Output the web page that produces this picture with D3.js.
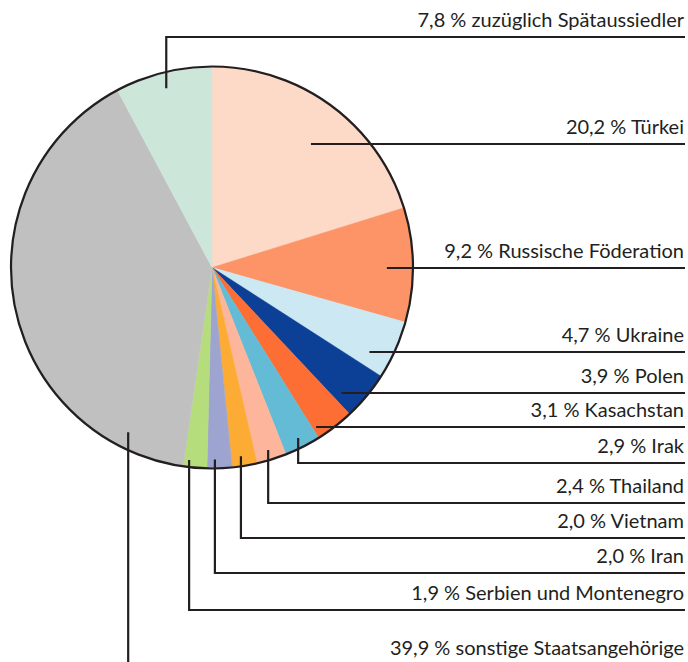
<!DOCTYPE html>
<html>
<head>
<meta charset="utf-8">
<script src="https://cdn.jsdelivr.net/npm/d3@7"></script>
<style>
  body { margin: 0; background: #fff; }
  text { font-family: Lato, sans-serif; fill: #231f20; }
</style>
</head>
<body>
<script>
'use strict';

// slices, clockwise from 12 o'clock
const countries = ["Türkei", "Russische Föderation", "Ukraine", "Polen", "Kasachstan",
  "Irak", "Thailand", "Vietnam", "Iran", "Serbien und Montenegro",
  "sonstige Staatsangehörige", "zuzüglich Spätaussiedler"];
const shares = [20.2, 9.2, 4.7, 3.9, 3.1, 2.9, 2.4, 2.0, 2.0, 1.9, 39.9, 7.8];
const sliceColors = ["#fddac8", "#fc9467", "#cce8f3", "#0c3f96", "#fd6e35", "#63bbd6",
  "#fdb69b", "#fcab35", "#9da4d0", "#b6dd7b", "#c0c0c0", "#cce6da"];

// leader layout: where the line leaves the slice (fraction of the slice, fraction of radius),
// kind of leader and y of the label row
const leaderT = [0.53, 0.52, 0.74, 0.82, 0.91, 0.5, 0.52, 0.59, 0.68, 0.78, 0.13, 0.49];
const leaderR = [0.79, 0.87, 0.89, 0.9, 0.95, 0.95, 0.95, 0.95, 0.955, 0.965, 0.92, 0.92];
const leaderKind = ["h", "h", "h", "h", "h", "v", "v", "v", "v", "v", "v", "v"];
const rowY = [144, 268, 352, 393, 427, 463, 503, 538, 573, 610, 665, 37];

(function() {

  let width = 688;
  let height = 662;
  let cx = 212, cy = 267.5, radius = 201;
  let rightEdge = 685;

  window.onload = function() {
    let svg = d3.select('body')
      .append('svg')
      .attr('width', width)
      .attr('height', height);

    let data = countries.map((c, i) => ({ name: c, value: shares[i] }));

    let pie = d3.pie()
      .value(d => d.value)
      .sort(null);
    let arcs = pie(data);

    let arc = d3.arc()
      .innerRadius(0)
      .outerRadius(radius);

    let g = svg.append('g')
      .attr('transform', 'translate(' + cx + ',' + cy + ')');

    g.selectAll('.slice')
      .data(arcs)
      .enter()
      .append('path')
      .attr('class', 'slice')
      .attr('d', arc)
      .attr('fill', d => sliceColors[d.index])
      .attr('stroke', d => sliceColors[d.index])
      .attr('stroke-width', 0.5);

    // outline of the whole pie
    g.append('circle')
      .attr('r', radius)
      .attr('fill', 'none')
      .attr('stroke', '#231f20')
      .attr('stroke-width', 2.2);

    drawLeaders(svg, arcs);
  }

  // leader lines and labels, right-aligned
  function drawLeaders(svg, arcs) {
    let fmt = v => d3.format('.1f')(v).replace('.', ',');

    arcs.forEach(function(a) {
      let i = a.index;
      let ang = a.startAngle + leaderT[i] * (a.endAngle - a.startAngle);
      let p = d3.pointRadial(ang, leaderR[i] * radius);
      let ax = cx + p[0], ay = cy + p[1];
      let y = rowY[i];
      let pts;
      if (leaderKind[i] === 'h') {
        pts = [[ax, y], [rightEdge, y]];
      } else {
        pts = [[ax, ay], [ax, y], [rightEdge, y]];
      }
      svg.append('path')
        .attr('d', d3.line()(pts))
        .attr('fill', 'none')
        .attr('stroke', '#231f20')
        .attr('stroke-width', 2.2);

      svg.append('text')
        .attr('x', rightEdge - 1)
        .attr('y', y - 10)
        .attr('text-anchor', 'end')
        .style('font-size', '20px')
        .text(fmt(a.data.value) + ' % ' + a.data.name);
    });
  }

})();
</script>
</body>
</html>
